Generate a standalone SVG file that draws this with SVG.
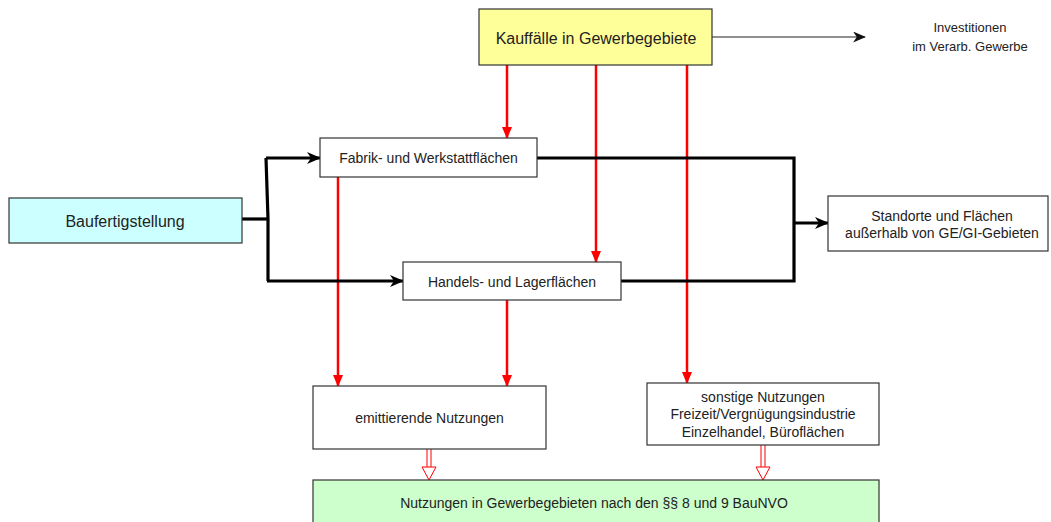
<svg xmlns="http://www.w3.org/2000/svg" width="1051" height="522" viewBox="0 0 1051 522">
<defs>
<style>
.box{stroke:#333;stroke-width:1.2}
.t{font-family:"Liberation Sans",Arial,sans-serif;font-size:14px;fill:#222;text-anchor:middle}
.big{font-size:16px}
.red{stroke:#ff0000;stroke-width:2.5;fill:none}
.blk{stroke:#000;stroke-width:3.2;fill:none}
.thin{stroke:#222;stroke-width:1.2;fill:none}
.hol{stroke:#ff0000;stroke-width:1;fill:none}
</style>
<marker id="ar" viewBox="0 0 12 12" refX="11" refY="6" markerWidth="12" markerHeight="12" markerUnits="userSpaceOnUse" orient="auto">
<path d="M0,1 L12,6 L0,11 z" fill="#ff0000"/>
</marker>
<marker id="ab" viewBox="0 0 14 12" refX="13" refY="6" markerWidth="14" markerHeight="12" markerUnits="userSpaceOnUse" orient="auto">
<path d="M0,0 L14,6 L0,12 L4,6 z" fill="#000"/>
</marker>
<marker id="at" viewBox="0 0 14 12" refX="13" refY="6" markerWidth="13" markerHeight="11" markerUnits="userSpaceOnUse" orient="auto">
<path d="M0,0 L14,6 L0,12 L4,6 z" fill="#111"/>
</marker>
</defs>
<rect width="1051" height="522" fill="#fff"/>
<g id="connectors">
<path class="thin" d="M712,37 H865" marker-end="url(#at)"/>
<path class="red" d="M507,65 V138" marker-end="url(#ar)"/>
<path class="red" d="M596,65 V262" marker-end="url(#ar)"/>
<path class="red" d="M687,65 V383" marker-end="url(#ar)"/>
<path class="red" d="M338,177 V386" marker-end="url(#ar)"/>
<path class="red" d="M507,300 V386" marker-end="url(#ar)"/>
<path class="blk" d="M242,219 H267"/>
<path class="blk" d="M266,158 L268,219 V281"/>
<path class="blk" d="M266,158 H320" marker-end="url(#ab)"/>
<path class="blk" d="M267,281 H403" marker-end="url(#ab)"/>
<path class="blk" d="M537,158 H794 V281 H621"/>
<path class="blk" d="M794,223 H828" marker-end="url(#ab)"/>
<g class="hol">
<path d="M427,449 V467 M431,449 V467"/>
<path d="M422,467 H436 L429,480 Z" fill="#fff"/>
<path d="M761,445 V467 M765,445 V467"/>
<path d="M756,467 H770 L763,480 Z" fill="#fff"/>
</g>
</g>
<g id="kauffaelle">
<rect class="box" x="479" y="9" width="233" height="56" fill="#ffff99"/>
<text class="t big" x="596" y="44">Kauffälle in Gewerbegebiete</text>
</g>
<g id="investitionen">
<text class="t" style="font-size:13px" x="970" y="32">Investitionen</text>
<text class="t" style="font-size:13px" x="970" y="51">im Verarb. Gewerbe</text>
</g>
<g id="baufertigstellung">
<rect class="box" x="9" y="198" width="233" height="45" fill="#ccffff"/>
<text class="t big" x="125" y="227">Baufertigstellung</text>
</g>
<g id="fabrik">
<rect class="box" x="320" y="138" width="217" height="39" fill="#fff"/>
<text class="t" x="428.5" y="163">Fabrik- und Werkstattflächen</text>
</g>
<g id="handels">
<rect class="box" x="403" y="262" width="218" height="38" fill="#fff"/>
<text class="t" x="512" y="287">Handels- und Lagerflächen</text>
</g>
<g id="standorte">
<rect class="box" x="828" y="196" width="220" height="55" fill="#fff"/>
<text class="t" x="942" y="221">Standorte und Flächen</text>
<text class="t" x="942" y="238">außerhalb von GE/GI-Gebieten</text>
</g>
<g id="emittierende">
<rect class="box" x="313" y="386" width="233" height="63" fill="#fff"/>
<text class="t" x="429.5" y="423">emittierende Nutzungen</text>
</g>
<g id="sonstige">
<rect class="box" x="647" y="383" width="232" height="62" fill="#fff"/>
<text class="t" x="763" y="402">sonstige Nutzungen</text>
<text class="t" x="763" y="419">Freizeit/Vergnügungsindustrie</text>
<text class="t" x="763" y="437">Einzelhandel, Büroflächen</text>
</g>
<g id="nutzungen">
<rect class="box" x="313" y="480" width="566" height="50" fill="#ccffcc"/>
<text class="t" x="594" y="508">Nutzungen in Gewerbegebieten nach den §§ 8 und 9 BauNVO</text>
</g>
</svg>
